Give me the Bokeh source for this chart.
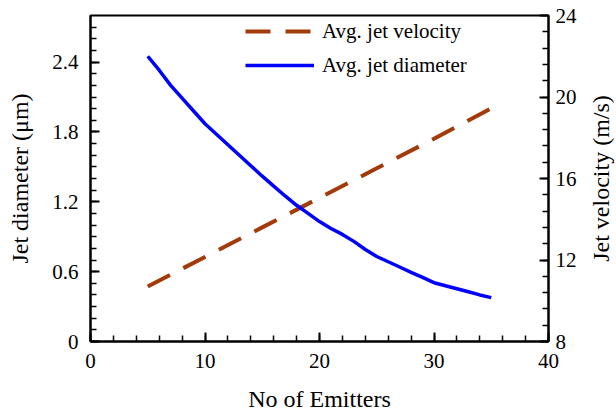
from bokeh.plotting import figure
from bokeh.models import Range1d, LinearAxis, FixedTicker, Legend, LegendItem, Label
from bokeh.embed import file_html
from bokeh.resources import INLINE

# ---- data ----
emitters_v = [5, 10, 15, 20, 25, 30, 35]
velocity = [10.7, 12.15, 13.6, 15.05, 16.5, 17.95, 19.45]

emitters_d = list(range(5, 36))
diameter = [2.45, 2.33, 2.20, 2.09, 1.98, 1.87, 1.78, 1.69, 1.60, 1.51,
            1.42, 1.335, 1.25, 1.17, 1.10, 1.03, 0.97, 0.92, 0.86, 0.79,
            0.73, 0.685, 0.64, 0.594, 0.55, 0.505, 0.479, 0.453, 0.427, 0.40, 0.377]

x_ticks = [0, 10, 20, 30, 40]
x_minor = [i * 2 for i in range(21)]
left_ticks = [0, 0.6, 1.2, 1.8, 2.4]
left_minor = [round(i * 0.1, 1) for i in range(28)]
right_ticks = [8, 12, 16, 20, 24]
right_minor = [round(8 + i * 0.8, 1) for i in range(21)]

FONT = "Liberation Serif"

p = figure(frame_width=458, frame_height=326, output_backend="svg", toolbar_location=None,
           x_range=Range1d(0, 40), y_range=Range1d(0, 2.8),
           min_border_left=90, min_border_right=68, min_border_top=15, min_border_bottom=73)
p.extra_y_ranges = {"v": Range1d(8, 24)}
p.grid.visible = False
p.outline_line_color = "black"
p.outline_line_width = 2
p.background_fill_color = "white"
p.border_fill_color = "white"

rv = p.line(emitters_v, velocity, y_range_name="v", line_color="#A33A0A", line_width=4,
            line_dash="25 15")
rd = p.line(emitters_d, diameter, line_color="#0000FF", line_width=3.5)

right_axis = LinearAxis(y_range_name="v")
p.add_layout(right_axis, "right")

p.xaxis[0].ticker = FixedTicker(ticks=x_ticks, minor_ticks=x_minor)
p.yaxis[0].ticker = FixedTicker(ticks=left_ticks, minor_ticks=left_minor)
right_axis.ticker = FixedTicker(ticks=right_ticks, minor_ticks=right_minor)

p.xaxis[0].axis_label = "No of Emitters"
p.yaxis[0].axis_label = "Jet diameter (\u03bcm)"

for ax in [p.xaxis[0], p.yaxis[0], right_axis]:
    ax.axis_line_width = 2
    ax.axis_line_color = "black"
    ax.major_tick_in = 9
    ax.major_tick_out = 0
    ax.minor_tick_in = 6
    ax.minor_tick_out = 0
    ax.major_tick_line_width = 2
    ax.minor_tick_line_width = 1.5
    ax.major_tick_line_color = "black"
    ax.minor_tick_line_color = "black"
    ax.major_label_text_font = FONT
    ax.major_label_text_font_size = "21px"
    ax.major_label_text_color = "black"
    ax.axis_label_text_font = FONT
    ax.axis_label_text_font_size = "24px"
    ax.axis_label_text_font_style = "normal"
    ax.axis_label_text_color = "black"

p.xaxis[0].major_label_standoff = 12
p.xaxis[0].axis_label_standoff = 15
p.yaxis[0].major_label_standoff = 12
p.yaxis[0].axis_label_standoff = 16
right_axis.major_label_standoff = 7

# right axis title, reading bottom-to-top like the reference (in the right side panel,
# so it is not clipped by the plot frame)
right_title = Label(x=44.55, y=1.4, text="Jet velocity (m/s)", angle=90, angle_units="deg",
                    text_align="center", text_baseline="middle", text_font=FONT,
                    text_font_size="24px", text_color="black")
p.add_layout(right_title, "right")

legend = Legend(items=[LegendItem(label="Avg. jet velocity", renderers=[rv]),
                       LegendItem(label="Avg. jet diameter", renderers=[rd])],
                location=(155, 259), padding=0, spacing=0, margin=0,
                border_line_color=None, background_fill_alpha=0,
                glyph_width=69, glyph_height=34, label_height=34, label_standoff=8,
                label_text_font=FONT, label_text_font_size="21px", label_text_color="black")
p.add_layout(legend)

open("out.html", "w").write(file_html(p, INLINE))
